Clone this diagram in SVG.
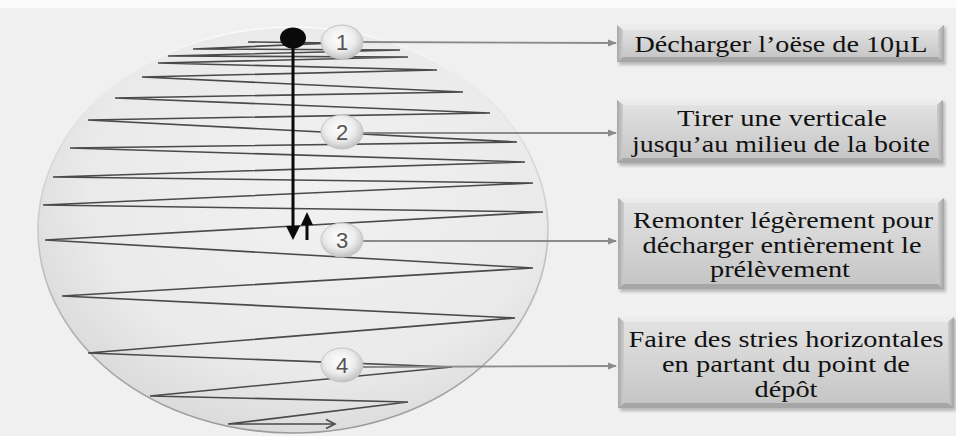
<svg xmlns="http://www.w3.org/2000/svg" width="956" height="436" viewBox="0 0 956 436">
<defs>
<style>
.zig{fill:none;stroke:#4a4a4a;stroke-width:1.6;stroke-linejoin:miter}
.conn{stroke:#8a8a8a;stroke-width:1.8;fill:none}
.num{font-family:"Liberation Sans",Arial,sans-serif;font-size:22px;fill:#555;text-anchor:middle}
.bt{font-family:"Liberation Serif","Times New Roman",serif;font-size:23px;fill:#111;text-anchor:middle}
.bubble{fill:url(#bub);stroke:#c4c4c4;stroke-width:1}
.face{fill:url(#faceG)}
.shadow{fill:#8c8c8c;opacity:.55;filter:url(#blur)}
</style>
<radialGradient id="dish" cx="55%" cy="40%" r="60%">
<stop offset="0" stop-color="#f1f1f1"/>
<stop offset="0.75" stop-color="#eaeaea"/>
<stop offset="1" stop-color="#dcdcdc"/>
</radialGradient>
<linearGradient id="rim" x1="0" y1="0" x2="0" y2="1">
<stop offset="0" stop-color="#fafafa"/>
<stop offset="0.5" stop-color="#c8c8c8"/>
<stop offset="1" stop-color="#9a9a9a"/>
</linearGradient>
<radialGradient id="bub" cx="45%" cy="40%" r="60%">
<stop offset="0" stop-color="#ffffff"/>
<stop offset="0.6" stop-color="#ececec"/>
<stop offset="1" stop-color="#c2c2c2"/>
</radialGradient>
<linearGradient id="faceG" x1="0" y1="0" x2="0" y2="1">
<stop offset="0" stop-color="#e2e2e2"/>
<stop offset="1" stop-color="#c6c6c6"/>
</linearGradient>
<linearGradient id="leftB" x1="0" y1="0" x2="1" y2="0">
<stop offset="0" stop-color="#a8a8a8"/>
<stop offset="1" stop-color="#cdcdcd"/>
</linearGradient>
<linearGradient id="rightB" x1="0" y1="0" x2="1" y2="0">
<stop offset="0" stop-color="#cdcdcd"/>
<stop offset="1" stop-color="#a4a4a4"/>
</linearGradient>
<filter id="blur" x="-5%" y="-20%" width="110%" height="140%"><feGaussianBlur stdDeviation="1.5"/></filter>
<marker id="ah" markerWidth="9" markerHeight="8" refX="8" refY="4" orient="auto" markerUnits="userSpaceOnUse">
<path d="M0,0.5 L9,4 L0,7.5 Z" fill="#8a8a8a"/>
</marker>
</defs>

<rect x="0" y="0" width="956" height="436" fill="#f0f0f0"/>
<rect x="0" y="0" width="956" height="8" fill="#fbfbfb"/>

<g id="dish-plate">
<ellipse cx="293" cy="230" rx="255" ry="203" fill="url(#dish)" stroke="url(#rim)" stroke-width="1.6"/>
</g>

<g id="streaks">
<polyline class="zig" points="248,42 335,43 193,49 400,50 168,56 408,57 158,63 437,70 142,77 463,92 115,98 490,113 88,120 517,142 70,148 525,162 53,177 533,183 43,205 543,212 45,240 533,268 62,296 515,318 88,353 452,367 150,396 408,402 228,424 335,424"/>
<path class="zig" d="M326,419.5 L335,424 L326,428.5"/>
</g>

<g id="deposit">
<ellipse cx="293" cy="38" rx="13" ry="10.5" fill="#0a0a0a"/>
<line x1="293" y1="40" x2="293" y2="228" stroke="#0a0a0a" stroke-width="3"/>
<path d="M286,226 L300,226 L293,240 Z" fill="#0a0a0a"/>
<line x1="307" y1="240" x2="307" y2="222" stroke="#0a0a0a" stroke-width="3"/>
<path d="M301,225 L313,225 L307,212 Z" fill="#0a0a0a"/>
</g>

<g id="connectors">
<line class="conn" x1="363" y1="42" x2="616" y2="43" marker-end="url(#ah)"/>
<line class="conn" x1="363" y1="133" x2="616" y2="133" marker-end="url(#ah)"/>
<line class="conn" x1="363" y1="241" x2="616" y2="241" marker-end="url(#ah)"/>
<line class="conn" x1="363" y1="367" x2="616" y2="366" marker-end="url(#ah)"/>
</g>

<g id="step1">
<ellipse class="bubble" cx="342" cy="42" rx="21" ry="17"/>
<text class="num" x="342" y="50">1</text>
</g>
<g id="step2">
<ellipse class="bubble" cx="342" cy="132" rx="21" ry="17"/>
<text class="num" x="342" y="140">2</text>
</g>
<g id="step3">
<ellipse class="bubble" cx="342" cy="240" rx="21" ry="17"/>
<text class="num" x="342" y="248">3</text>
</g>
<g id="step4">
<ellipse class="bubble" cx="342" cy="365" rx="21" ry="17"/>
<text class="num" x="342" y="373">4</text>
</g>

<g id="box1">
<rect class="shadow" x="619" y="27" width="327" height="38"/>
<rect x="617" y="25" width="327" height="37" fill="#b8b8b8"/>
<polygon points="617,25 944,25 938,30 623,30" fill="#ececec"/>
<polygon points="617,62 944,62 938,57 623,57" fill="#a6a6a6"/>
<polygon points="617,25 623,30 623,57 617,62" fill="url(#leftB)"/>
<polygon points="944,25 938,30 938,57 944,62" fill="url(#rightB)"/>
<rect class="face" x="623" y="30" width="315" height="27"/>
<text class="bt" x="781" y="52" textLength="293" lengthAdjust="spacingAndGlyphs">Décharger l’oëse de 10µL</text>
</g>

<g id="box2">
<rect class="shadow" x="619" y="102" width="326" height="64"/>
<rect x="617" y="100" width="326" height="63" fill="#b8b8b8"/>
<polygon points="617,100 943,100 937,105 623,105" fill="#ececec"/>
<polygon points="617,163 943,163 937,158 623,158" fill="#a6a6a6"/>
<polygon points="617,100 623,105 623,158 617,163" fill="url(#leftB)"/>
<polygon points="943,100 937,105 937,158 943,163" fill="url(#rightB)"/>
<rect class="face" x="623" y="105" width="314" height="53"/>
<text class="bt" x="782" y="126" textLength="210" lengthAdjust="spacingAndGlyphs">Tirer une verticale</text>
<text class="bt" x="781" y="152" textLength="298" lengthAdjust="spacingAndGlyphs">jusqu’au milieu de la boite</text>
</g>

<g id="box3">
<rect class="shadow" x="620" y="200" width="326" height="92"/>
<rect x="618" y="198" width="326" height="91" fill="#b8b8b8"/>
<polygon points="618,198 944,198 938,203 624,203" fill="#ececec"/>
<polygon points="618,289 944,289 938,284 624,284" fill="#a6a6a6"/>
<polygon points="618,198 624,203 624,284 618,289" fill="url(#leftB)"/>
<polygon points="944,198 938,203 938,284 944,289" fill="url(#rightB)"/>
<rect class="face" x="624" y="203" width="314" height="81"/>
<text class="bt" x="783" y="228" textLength="300" lengthAdjust="spacingAndGlyphs">Remonter légèrement pour</text>
<text class="bt" x="782" y="253" textLength="279" lengthAdjust="spacingAndGlyphs">décharger entièrement le</text>
<text class="bt" x="780" y="277" textLength="140" lengthAdjust="spacingAndGlyphs">prélèvement</text>
</g>

<g id="box4">
<rect class="shadow" x="620" y="319" width="336" height="92"/>
<rect x="618" y="317" width="336" height="91" fill="#b8b8b8"/>
<polygon points="618,317 954,317 948,322 624,322" fill="#ececec"/>
<polygon points="618,408 954,408 948,403 624,403" fill="#a6a6a6"/>
<polygon points="618,317 624,322 624,403 618,408" fill="url(#leftB)"/>
<polygon points="954,317 948,322 948,403 954,408" fill="url(#rightB)"/>
<rect class="face" x="624" y="322" width="324" height="81"/>
<text class="bt" x="786" y="347" textLength="315" lengthAdjust="spacingAndGlyphs">Faire des stries horizontales</text>
<text class="bt" x="786" y="372" textLength="248" lengthAdjust="spacingAndGlyphs">en partant du point de</text>
<text class="bt" x="786" y="397" textLength="63" lengthAdjust="spacingAndGlyphs">dépôt</text>
</g>
</svg>
